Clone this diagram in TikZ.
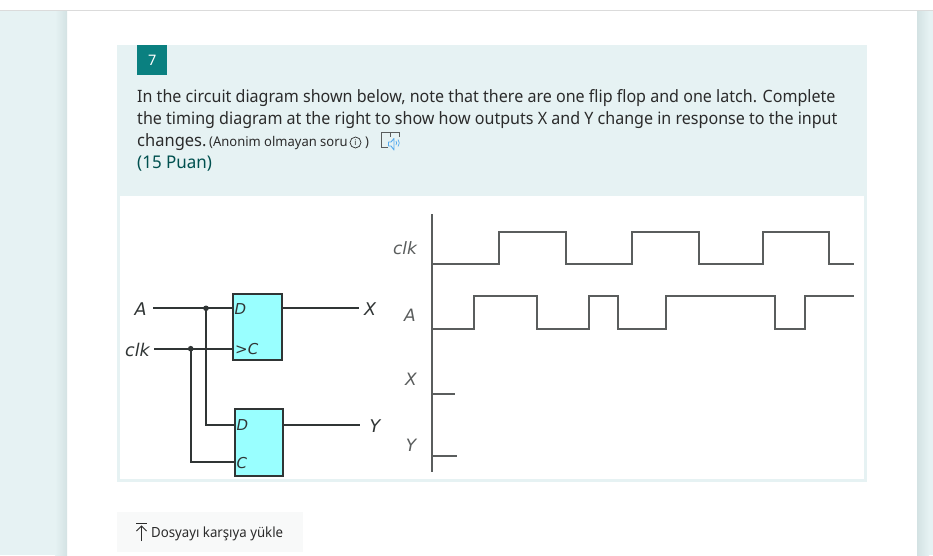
\documentclass[tikz,border=0pt]{standalone}
\usepackage{fontspec}
\setmainfont{Noto Sans}
\newfontfamily\wfont[FakeStretch=0.945]{Noto Sans}
\newfontfamily\nfont[FakeStretch=0.97]{Noto Sans}
\newfontfamily\lbl{DejaVu Sans}
\definecolor{pagebg}{HTML}{E6F2F3}
\definecolor{pagesh}{HTML}{D3E2E3}
\definecolor{teal7}{HTML}{0A8080}
\definecolor{txt}{HTML}{2B2B2B}
\definecolor{puan}{HTML}{00504F}
\definecolor{boxc}{HTML}{99FFFF}
\definecolor{wire}{HTML}{303535}
\definecolor{sig}{HTML}{5A5D5D}
\definecolor{btn}{HTML}{F8F9F9}
\definecolor{spk}{HTML}{55AAEE}
\tikzset{
  x=1pt,y=-1pt,
  qline/.style={anchor=base west,inner sep=0pt,text=txt,font=\wfont\fontsize{17}{20}\selectfont},
  qnarrow/.style={qline,font=\nfont\fontsize{17}{20}\selectfont},
  qsmall/.style={qline,font=\nfont\fontsize{13.4}{16}\selectfont},
  ff/.style={draw=wire,line width=2pt,fill=boxc},
  wirel/.style={draw=wire,line width=2pt},
  pin/.style={inner sep=0pt,text=wire,font=\lbl\fontsize{17.5}{19}\selectfont\itshape},
  pinin/.style={inner sep=0pt,anchor=west,text=wire,font=\lbl\fontsize{15}{17}\selectfont\itshape},
  siglab/.style={inner sep=0pt,text=sig,font=\lbl\fontsize{17}{19}\selectfont\itshape},
  wave/.style={draw=sig,line width=2pt,line join=miter},
}
\begin{document}
\begin{tikzpicture}
\useasboundingbox (0,0) rectangle (933,555);
\fill[white] (0,0) rectangle (933,555);
\fill[pagebg] (0,11) rectangle (55,555);
\shade[left color=pagebg,right color=pagesh] (55,11) rectangle (67,555);
\shade[left color=pagesh,right color=pagebg] (917,11) rectangle (929,555);
\fill[pagebg] (929,11) rectangle (933,555);
\draw[black!14,line width=1pt] (0,10.5) -- (933,10.5);
\fill[pagebg] (117,45) rectangle (867,482);
\fill[white] (120,196) rectangle (864,479);
\node[fill=teal7,minimum width=30pt,minimum height=30pt,inner sep=0pt,text=white,font=\fontsize{14.5}{15}\selectfont,anchor=north west] (badge) at (137,45) {7};
\node[qline] (l1) at (137,102) {In the circuit diagram shown below, note that there are one flip flop and one latch. Complete};
\node[qline] (l2) at (137,124) {the timing diagram at the right to show how outputs X and Y change in response to the input};
\node[qnarrow] (l3) at (137,146) {changes.};
\node[qsmall] (l3b) at (209,146) {(Anonim olmayan soru};
\draw[txt,line width=.7pt] (355.5,142.5) circle (5.5);
\node[inner sep=0pt,text=txt,font=\fontsize{8}{9}\selectfont] (inf) at (355.5,142.5) {i};
\node[qsmall] (l3c) at (365,146) {)};
\draw[sig,line width=.8pt] (388,147.3) -- (381.7,147.3) -- (381.7,132.5) -- (399.3,132.5) -- (399.3,137);
\draw[sig,line width=.8pt] (390.5,132.5) -- (390.5,137);
\draw[spk,line width=.9pt,line join=round] (388.5,142) -- (391,142) -- (394,138.5) -- (394,150) -- (391,146) -- (388.5,146) -- cycle;
\draw[spk,line width=.7pt] (396,141) arc (-35:35:3.5);
\draw[spk,line width=.7pt] (398,139.5) arc (-40:40:5.5);
\node[qnarrow,text=puan,font=\nfont\fontsize{17.5}{20}\selectfont] (l4) at (137,168) {(15 Puan)};
%
\node[ff,minimum width=48.5pt,minimum height=66pt,inner sep=0pt,anchor=north west] (ff1) at (232,293.3) {};
\node[ff,minimum width=48pt,minimum height=66.7pt,inner sep=0pt,anchor=north west] (ff2) at (234.3,408.3) {};
\node[pin] (pa) at (140.5,309.5) {A};
\node[pin] (pclk) at (137.5,349.5) {clk};
\node[pin] (px) at (370,309.5) {X};
\node[pin] (py) at (375,426.5) {Y};
\node[pinin] (d1) at (234.5,309.5) {D};
\node[pinin] (c1) at (235,349.5) {>C};
\node[pinin] (d2) at (236.5,425.5) {D};
\node[pinin] (c2) at (236.5,463) {C};
\coordinate (a0) at (153.3,308.3);
\coordinate (a1) at (206,308.3);
\coordinate (k0) at (154,348.7);
\coordinate (k1) at (190.7,348.7);
\coordinate (x1) at (359,308.3);
\coordinate (y1) at (360,425);
\draw[wirel] (a0) -- (a1) -- (a1-|ff1.west);
\draw[wirel] (k0) -- (k1) -- (k1-|ff1.west);
\draw[wirel] (a1) -- (a1|-y1) -- (y1-|ff2.west);
\draw[wirel] (k1) |- (234.3,462.3);
\draw[wirel] (x1-|ff1.east) -- (x1);
\draw[wirel] (y1-|ff2.east) -- (y1);
\fill[wire] (a1) circle (2.8) (k1) circle (2.8);
%
\coordinate (axt) at (432,214);
\coordinate (axb) at (432,472);
\draw[wave] (axt) -- (axb);
\draw[wave] (432,264.3) -- (499.3,264.3) -- (499.3,231.7) -- (566,231.7) -- (566,264.3) -- (632.3,264.3) -- (632.3,231.7) -- (698.7,231.7) -- (698.7,264.3) -- (762.7,264.3) -- (762.7,231.7) -- (829.3,231.7) -- (829.3,264.3) -- (854,264.3);
\draw[wave] (432,329) -- (474,329) -- (474,295.7) -- (536.7,295.7) -- (536.7,329) -- (589.3,329) -- (589.3,295.7) -- (618,295.7) -- (618,329) -- (666,329) -- (666,295.7) -- (774.7,295.7) -- (774.7,329) -- (805.3,329) -- (805.3,295.7) -- (854,295.7);
\draw[wave] (432,393.7) -- (455.3,393.7);
\draw[wave] (432,455.7) -- (457,455.7);
\node[siglab] (tc) at (405,248) {clk};
\node[siglab] (ta) at (410,315) {A};
\node[siglab] (tx) at (411,379) {X};
\node[siglab] (ty) at (411,445) {Y};
%
\fill[btn] (117,512) rectangle (303,552);
\draw[txt,line width=.8pt] (136,523) -- (147,523);
\draw[txt,line width=.8pt] (141.5,541) -- (141.5,526);
\draw[txt,line width=.8pt] (136.5,531) -- (141.5,526) -- (146.5,531);
\node[qline,font=\wfont\fontsize{14}{16}\selectfont] (up) at (151,537) {Dosyayı karşıya yükle};
\end{tikzpicture}
\end{document}
